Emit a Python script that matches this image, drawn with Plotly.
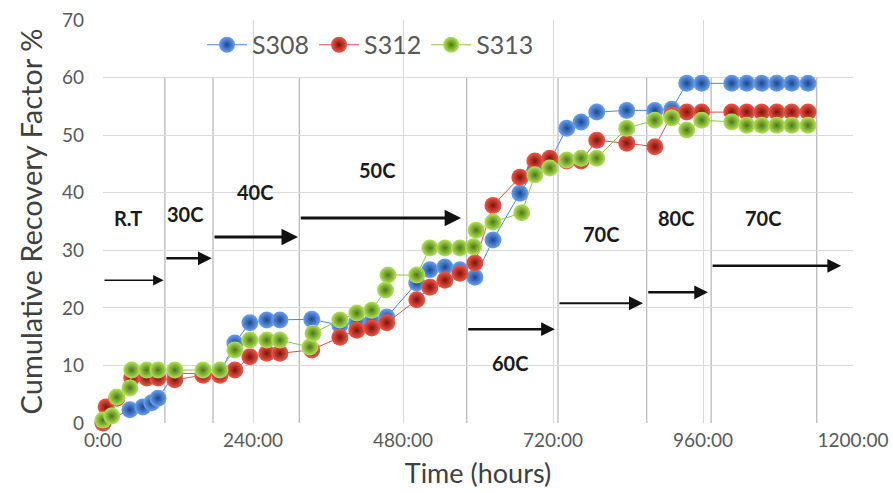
import plotly.graph_objects as go

# ---- data (hours, cumulative recovery %) ----
s308_h = [0, 43, 64, 78, 88, 115, 160, 187, 211, 235, 262, 283, 334, 379, 406, 430, 454,
          502, 523, 547, 571, 595, 624, 667, 691, 715, 742, 765, 790, 838, 883, 910, 934, 958,
          1006, 1030, 1054, 1078, 1102, 1128]
s308_v = [0, 2.3, 2.8, 3.5, 4.3, 8.6, 8.6, 8.6, 13.9, 17.4, 17.9, 17.9, 18.0, 17.0, 17.5, 17.6, 18.4,
          24.3, 26.6, 27.1, 26.6, 25.3, 31.8, 39.9, 44.0, 45.5, 51.2, 52.3, 54.0, 54.3, 54.3, 54.5, 59.0, 59.0,
          59.0, 59.0, 59.0, 59.0, 59.0, 59.0]

s312_h = [0, 5, 22, 46, 70, 88, 115, 160, 187, 211, 235, 262, 283, 334, 379, 406, 430, 454,
          502, 523, 547, 571, 595, 624, 667, 691, 715, 742, 765, 790, 838, 883, 910, 934, 958,
          1006, 1030, 1054, 1078, 1102, 1128]
s312_v = [0, 2.8, 4.3, 7.8, 7.8, 7.8, 7.5, 8.3, 8.3, 9.2, 11.5, 12.1, 12.1, 12.7, 14.9, 16.1, 16.5, 17.4,
          21.4, 23.6, 24.8, 26.0, 27.8, 37.8, 42.7, 45.5, 46.0, 45.5, 45.5, 49.1, 48.6, 48.0, 53.5, 54.0, 54.0,
          54.0, 54.0, 54.0, 54.0, 54.0, 54.0]

s313_h = [0, 14, 22, 43, 46, 70, 88, 115, 160, 187, 211, 235, 262, 283, 331, 336, 379, 406, 430, 452, 456,
          502, 523, 547, 571, 593, 597, 624, 670, 691, 715, 742, 765, 790, 838, 883, 910, 934, 958,
          1006, 1030, 1054, 1078, 1102, 1128]
s313_v = [0.5, 1.2, 4.5, 6.1, 9.2, 9.2, 9.2, 9.2, 9.2, 9.2, 12.7, 14.4, 14.4, 14.4, 13.2, 15.6, 17.9, 19.1, 19.6, 23.1, 25.7,
          25.7, 30.4, 30.4, 30.4, 30.6, 33.5, 34.9, 36.5, 43.1, 44.3, 45.7, 46.0, 46.0, 51.2, 52.6, 53.0, 50.9, 52.6,
          52.3, 51.7, 51.7, 51.7, 51.7, 51.7]

series_names = ["S308", "S312", "S313"]

# temperature stage boundaries (hours) and their top level
stage_bounds_h = [99, 176, 314, 582, 728, 870, 973, 1142]
stage_top = 60

# stage arrows: start hour, end hour, level
arrow_start = [0, 99, 176, 314, 582, 728, 870, 973]
arrow_end = [97, 174, 312, 573, 723, 864, 968, 1181]
arrow_level = [24.8, 28.6, 32.3, 35.6, 16.3, 20.8, 22.7, 27.3]
arrow_width = [1.5, 2.5, 3, 3, 2.5, 2, 2.5, 2.5]

# stage labels
label_text = ["R.T", "30C", "40C", "50C", "60C", "70C", "80C", "70C"]
label_h = [40, 131, 243, 438, 651, 797, 917, 1056]
label_v = [35.6, 36.3, 40.1, 43.9, 10.5, 32.8, 35.6, 35.6]

x_tickvals = [0, 240, 480, 720, 960, 1200]
x_ticktext = ["0:00", "240:00", "480:00", "720:00", "960:00", "1200:00"]

FONT = "Lato, 'Open Sans', sans-serif"

styles = [
    dict(center="#6aa2f0", edge="#1a468f", line="#4f86d6"),
    dict(center="#f0584a", edge="#7f120a", line="#d9534a"),
    dict(center="#b5e35a", edge="#4a7812", line="#8fc446"),
]

fig = go.Figure()
for name, xs, ys, st in zip(series_names, [s308_h, s312_h, s313_h], [s308_v, s312_v, s313_v], styles):
    fig.add_trace(go.Scatter(
        x=xs, y=ys, name=name, mode="lines+markers", cliponaxis=False,
        line=dict(color=st["line"], width=1),
        marker=dict(size=17, color=st["center"],
                    gradient=dict(type="radial", color=st["edge"]),
                    line=dict(width=0)),
    ))

shapes = []
for h in stage_bounds_h:
    shapes.append(dict(type="line", xref="x", yref="y", x0=h, x1=h, y0=0, y1=stage_top,
                       line=dict(color="#a6a6a6", width=1), layer="below"))

annotations = []
for s, e, lv, w in zip(arrow_start, arrow_end, arrow_level, arrow_width):
    annotations.append(dict(x=e, y=lv, ax=s, ay=lv, xref="x", yref="y", axref="x", ayref="y",
                            showarrow=True, arrowhead=2, arrowsize=1.4 if w < 2.5 else 1.1,
                            arrowwidth=w, arrowcolor="#111111", text=""))
for t, h, v in zip(label_text, label_h, label_v):
    annotations.append(dict(x=h, y=v, xref="x", yref="y", text="<b>" + t + "</b>", showarrow=False,
                            font=dict(family=FONT, size=20, color="#1a1a1a")))

fig.update_layout(
    width=893, height=493,
    margin=dict(l=103, r=40, t=20, b=70, autoexpand=False),
    paper_bgcolor="white", plot_bgcolor="white",
    font=dict(family=FONT, color="#595959"),
    shapes=shapes, annotations=annotations,
    showlegend=True,
    legend=dict(orientation="h", x=0.132, y=0.938, xanchor="left", yanchor="middle",
                bgcolor="rgba(0,0,0,0)", font=dict(family=FONT, size=25, color="#595959"),
                itemwidth=40, tracegroupgap=0),
    xaxis=dict(range=[0, 1200], tickvals=x_tickvals, ticktext=x_ticktext, automargin=False,
               showgrid=True, gridcolor="#d9d9d9", gridwidth=1, zeroline=False,
               showline=False, ticks="", ticklabelstandoff=4,
               tickfont=dict(family=FONT, size=19, color="#595959"),
               title=dict(text="Time (hours)", font=dict(family=FONT, size=27, color="#404040"), standoff=14)),
    yaxis=dict(range=[0, 70], dtick=10, showgrid=True, gridcolor="#d9d9d9", gridwidth=1, automargin=False,
               zeroline=False, showline=False, ticks="", ticklabelstandoff=18,
               tickfont=dict(family=FONT, size=19, color="#595959"),
               title=dict(text="Cumulative Recovery Factor %", font=dict(family=FONT, size=29, color="#404040"),
                          standoff=10)),
)

fig.write_html("out.html", config={"displayModeBar": False},
               post_script="document.body.style.margin='0';")
